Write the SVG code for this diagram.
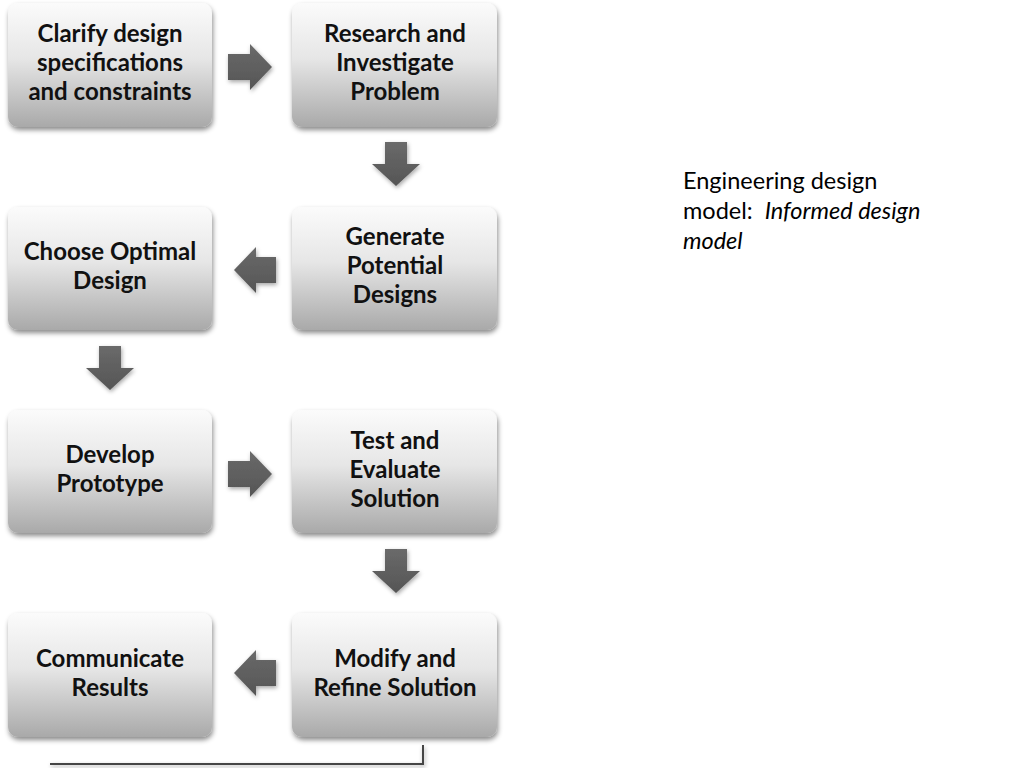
<svg xmlns="http://www.w3.org/2000/svg" width="1024" height="768" viewBox="0 0 1024 768">
<style>
.box{fill:url(#g);filter:url(#sh)}
.t{font-family:Lato,"Open Sans","Liberation Sans",sans-serif;font-weight:700;font-size:24px;fill:#111;text-anchor:middle}
.ar{fill:url(#ga);filter:url(#sh2)}
.cap{font-family:Lato,"Open Sans","Liberation Sans",sans-serif;font-size:23.5px;fill:#000}
</style>
<defs>
<linearGradient id="g" x1="0" y1="0" x2="0" y2="1">
<stop offset="0" stop-color="#fbfbfb"/>
<stop offset="0.45" stop-color="#e6e6e6"/>
<stop offset="1" stop-color="#a9a9a9"/>
</linearGradient>
<linearGradient id="ga" x1="0" y1="0" x2="0" y2="1">
<stop offset="0" stop-color="#6a6a6a"/>
<stop offset="1" stop-color="#555"/>
</linearGradient>
<filter id="sh" x="-10%" y="-10%" width="120%" height="125%">
<feDropShadow dx="1" dy="3" stdDeviation="2.5" flood-color="#000" flood-opacity="0.45"/>
</filter>
<filter id="sh2" x="-20%" y="-20%" width="140%" height="150%">
<feDropShadow dx="1" dy="2" stdDeviation="2" flood-color="#000" flood-opacity="0.35"/>
</filter>
</defs>
<rect width="1024" height="768" fill="#fff"/>

<g id="connectors">
<path class="ar" d="M228,54 H250 V44 L272,67 L250,90 V80 H228 Z"/>
<path class="ar" d="M385,142 H407 V164 H420 L396,186 L372,164 H385 Z"/>
<path class="ar" d="M276,257 H256 V247 L234,270 L256,293 V283 H276 Z"/>
<path class="ar" d="M99,346 H121 V368 H134 L110,390 L86,368 H99 Z"/>
<path class="ar" d="M228,461 H250 V451 L272,474 L250,497 V487 H228 Z"/>
<path class="ar" d="M385,549 H407 V571 H420 L396,593 L372,571 H385 Z"/>
<path class="ar" d="M276,660 H256 V650 L234,673 L256,696 V686 H276 Z"/>
<path d="M50,764 H423 V745" fill="none" stroke="#444" stroke-width="2" filter="url(#sh2)"/>
</g>

<g id="n1"><rect class="box" x="8" y="3" width="204" height="124" rx="10"/>
<text class="t" x="110" y="42">Clarify design</text><text class="t" x="110" y="71">specifications</text><text class="t" x="110" y="100">and constraints</text></g>
<g id="n2"><rect class="box" x="292" y="3" width="205" height="124" rx="10"/>
<text class="t" x="395" y="42">Research and</text><text class="t" x="395" y="71">Investigate</text><text class="t" x="395" y="100">Problem</text></g>
<g id="n3"><rect class="box" x="292" y="207" width="205" height="123" rx="10"/>
<text class="t" x="395" y="245">Generate</text><text class="t" x="395" y="274">Potential</text><text class="t" x="395" y="303">Designs</text></g>
<g id="n4"><rect class="box" x="8" y="207" width="204" height="123" rx="10"/>
<text class="t" x="110" y="260">Choose Optimal</text><text class="t" x="110" y="289">Design</text></g>
<g id="n5"><rect class="box" x="8" y="410" width="204" height="123" rx="10"/>
<text class="t" x="110" y="463">Develop</text><text class="t" x="110" y="492">Prototype</text></g>
<g id="n6"><rect class="box" x="292" y="410" width="205" height="123" rx="10"/>
<text class="t" x="395" y="449">Test and</text><text class="t" x="395" y="478">Evaluate</text><text class="t" x="395" y="507">Solution</text></g>
<g id="n7"><rect class="box" x="292" y="613" width="205" height="124" rx="10"/>
<text class="t" x="395" y="667">Modify and</text><text class="t" x="395" y="696">Refine Solution</text></g>
<g id="n8"><rect class="box" x="8" y="613" width="204" height="124" rx="10"/>
<text class="t" x="110" y="667">Communicate</text><text class="t" x="110" y="696">Results</text></g>

<g id="caption">
<text class="cap" x="683" y="189">Engineering design</text>
<text class="cap" x="683" y="219" xml:space="preserve">model:  <tspan font-style="italic">Informed design</tspan></text>
<text class="cap" x="683" y="249" font-style="italic">model</text>
</g>
</svg>
